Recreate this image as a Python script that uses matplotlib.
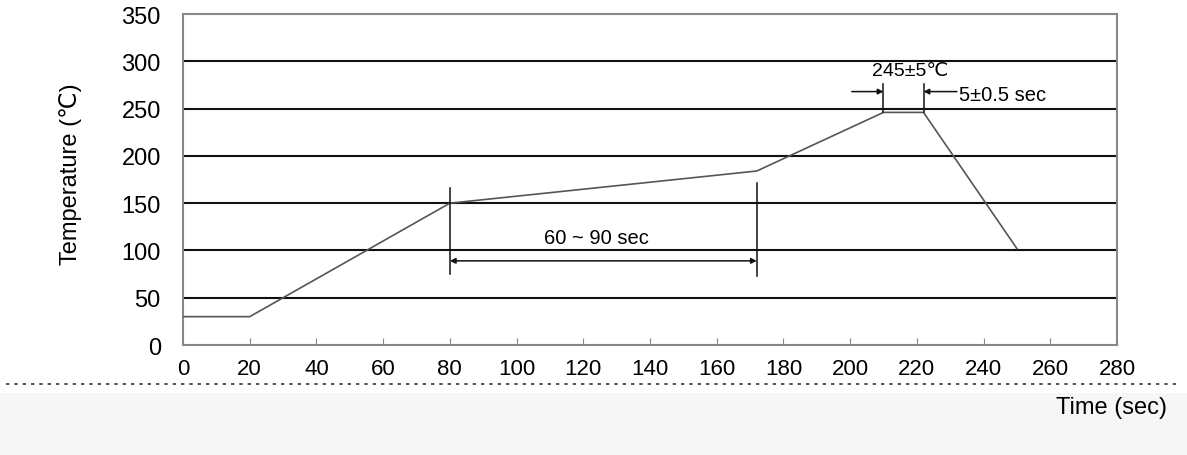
import matplotlib
matplotlib.use("Agg")
import matplotlib.pyplot as plt
from matplotlib.patches import Rectangle
from matplotlib.lines import Line2D

# Data
profile_time = [0, 20, 80, 172, 210, 222, 250]
profile_temp = [30, 30, 150, 184, 246, 246, 102]
x_ticks = [0, 20, 40, 60, 80, 100, 120, 140, 160, 180, 200, 220, 240, 260, 280]
y_ticks = [0, 50, 100, 150, 200, 250, 300, 350]
grid_levels = [50, 100, 150, 200, 250, 300]
soak_start, soak_end = 80, 172
peak_start, peak_end = 210, 222

FONT = ['Liberation Sans', 'DejaVu Sans']
plt.rcParams['font.family'] = FONT

fig = plt.figure(figsize=(11.87, 4.56), dpi=100)
# light gray bands at bottom
fig.patches.append(Rectangle((0, 0), 1, 0.135, transform=fig.transFigure,
                             facecolor='#f6f6f6', edgecolor='none', zorder=0))
fig.lines.append(Line2D([0.005, 0.995], [0.156, 0.156], transform=fig.transFigure,
                        color='#333333', lw=1.2, ls=(0, (2, 3)), zorder=1))

ax = fig.add_axes([0.1542, 0.2412, 0.7868, 0.7258])
ax.set_xlim(0, 280)
ax.set_ylim(0, 350)

for g in grid_levels:
    ax.axhline(g, color='#111111', lw=1.5, zorder=1)

ax.plot(profile_time, profile_temp, color='#555555', lw=1.2, zorder=3)

for s in ax.spines.values():
    s.set_color('#888888')
    s.set_linewidth(1.5)

ax.set_xticks(x_ticks)
ax.set_yticks(y_ticks)
ax.tick_params(axis='x', direction='in', length=5, color='#888888', labelsize=16, pad=9)
ax.tick_params(axis='y', length=0, labelsize=17, pad=16)
ax.set_ylabel('Temperature (℃)', fontsize=17)
ax.yaxis.set_label_coords(-0.108, 0.52)
fig.text(0.983, 0.082, 'Time (sec)', ha='right', va='bottom', fontsize=17)

# 60 ~ 90 sec annotation
ax.plot([soak_start, soak_start], [75, 166], color='#111111', lw=1.1, zorder=4)
ax.plot([soak_end, soak_end], [73, 171], color='#111111', lw=1.1, zorder=4)
ax.annotate('', xy=(soak_start, 89), xytext=(soak_end, 89),
            arrowprops=dict(arrowstyle='<|-|>', color='#111111', lw=1.1,
                            mutation_scale=8, shrinkA=0, shrinkB=0))
ax.text(124, 114, '60 ~ 90 sec', ha='center', va='center', fontsize=14.5)

# peak annotation
ax.plot([peak_start, peak_start], [246, 276], color='#111111', lw=1.1, zorder=4)
ax.plot([peak_end, peak_end], [246, 276], color='#111111', lw=1.1, zorder=4)
ax.annotate('', xy=(peak_start, 268), xytext=(peak_start - 9.5, 268),
            arrowprops=dict(arrowstyle='-|>', color='#111111', lw=1.1,
                            mutation_scale=8, shrinkA=0, shrinkB=0))
ax.annotate('', xy=(peak_end, 268), xytext=(peak_end + 10, 268),
            arrowprops=dict(arrowstyle='-|>', color='#111111', lw=1.1,
                            mutation_scale=8, shrinkA=0, shrinkB=0))
ax.text(218, 290, '245±5℃', ha='center', va='center', fontsize=14)
ax.text(232.5, 265, '5±0.5 sec', ha='left', va='center', fontsize=14.5)

fig.savefig('out.png', dpi=100)
